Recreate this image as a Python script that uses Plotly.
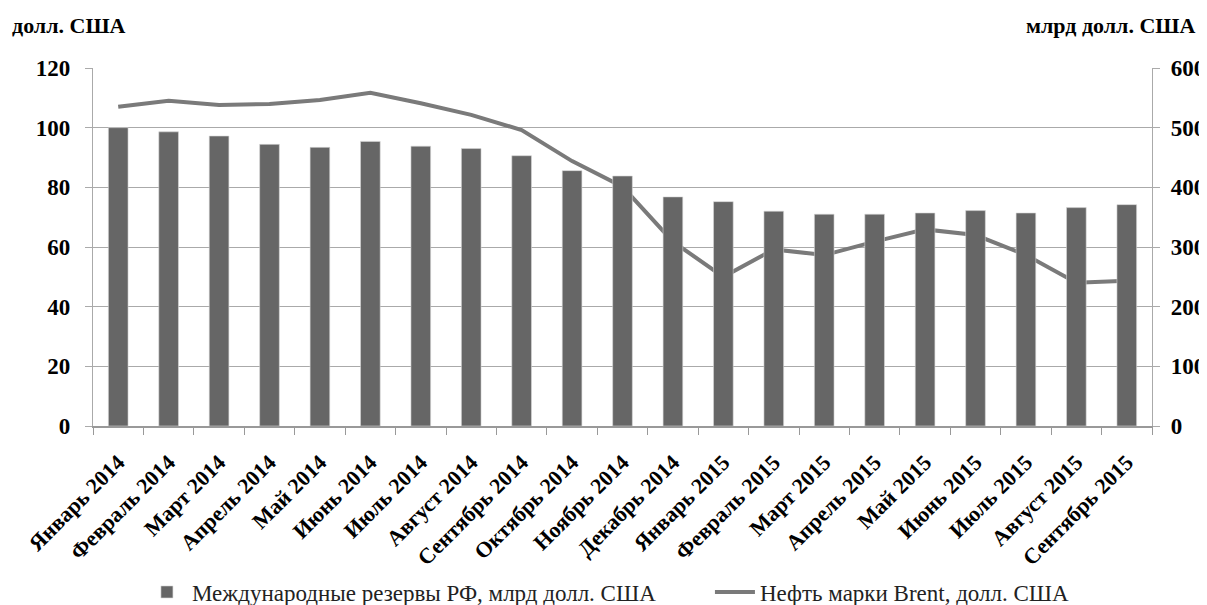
import plotly.graph_objects as go

months = ["Январь 2014", "Февраль 2014", "Март 2014", "Апрель 2014", "Май 2014",
          "Июнь 2014", "Июль 2014", "Август 2014", "Сентябрь 2014", "Октябрь 2014",
          "Ноябрь 2014", "Декабрь 2014", "Январь 2015", "Февраль 2015", "Март 2015",
          "Апрель 2015", "Май 2015", "Июнь 2015", "Июль 2015", "Август 2015",
          "Сентябрь 2015"]

reserves = [500, 493, 486, 472, 467, 477, 469, 465, 453, 428, 419, 384,
            376, 360, 355, 355, 357, 361, 357, 366, 371]

brent = [107.0, 109.0, 107.6, 107.9, 109.3, 111.7, 108.2, 104.3, 99.2, 88.8,
         80.2, 61.8, 50.0, 59.2, 57.3, 61.8, 65.9, 64.0, 57.3, 48.0, 48.7]

left_ticks = [0, 20, 40, 60, 80, 100, 120]
right_ticks = [0, 100, 200, 300, 400, 500, 600]

FONT = "Liberation Serif"

fig = go.Figure()
fig.add_trace(go.Bar(
    x=months, y=reserves, yaxis="y2",
    name="Международные резервы РФ, млрд долл. США",
    marker=dict(color="#666666", line=dict(color="#d8d8d8", width=0.6)),
    legendwidth=463,
))
fig.add_trace(go.Scatter(
    x=months, y=brent, yaxis="y", mode="lines",
    name="Нефть марки Brent, долл. США",
    line=dict(color="#7a7a7a", width=4),
))

fig.update_layout(
    width=1199, height=597,
    paper_bgcolor="white", plot_bgcolor="white",
    margin=dict(l=85, r=55, t=60, b=179, autoexpand=False),
    bargap=0.61,
    font=dict(family=FONT, color="black"),
    showlegend=True,
    legend=dict(
        orientation="h", x=-0.001, xanchor="left", y=-0.4637, yanchor="middle",
        font=dict(family=FONT, size=23, color="#222222"),
        traceorder="normal", itemwidth=40, indentation=50,
    ),
    xaxis=dict(
        type="category", tickangle=-45, tickson="boundaries",
        ticks="outside", ticklen=7, tickcolor="#999999",
        showline=True, linecolor="#999999", linewidth=1.5,
        showgrid=False, ticklabelstandoff=13,
        tickfont=dict(family=FONT, size=22, color="black", weight="bold"),
    ),
    yaxis=dict(
        range=[0, 120], tickvals=left_ticks,
        showgrid=True, gridcolor="#aaaaaa", gridwidth=1.3,
        showline=True, linecolor="#aaaaaa", linewidth=1.3,
        ticks="outside", ticklen=7, tickcolor="#aaaaaa",
        zeroline=False, ticklabelstandoff=10,
        tickfont=dict(family=FONT, size=23, color="black", weight="bold"),
    ),
    yaxis2=dict(
        range=[0, 600], tickvals=right_ticks, overlaying="y", side="right",
        showgrid=False,
        showline=True, linecolor="#aaaaaa", linewidth=1.3,
        ticks="outside", ticklen=7, tickcolor="#aaaaaa",
        zeroline=False, ticklabelstandoff=6,
        tickfont=dict(family=FONT, size=23, color="black", weight="bold"),
    ),
    annotations=[
        dict(text="долл. США", xref="paper", yref="paper",
             x=-0.078, y=1.12, xanchor="left", yanchor="middle", showarrow=False,
             font=dict(family=FONT, size=22, color="black", weight="bold")),
        dict(text="млрд долл. США", xref="paper", yref="paper",
             x=1.0425, y=1.12, xanchor="right", yanchor="middle", showarrow=False,
             font=dict(family=FONT, size=22, color="black", weight="bold")),
    ],
)

fig.write_html("out.html")
